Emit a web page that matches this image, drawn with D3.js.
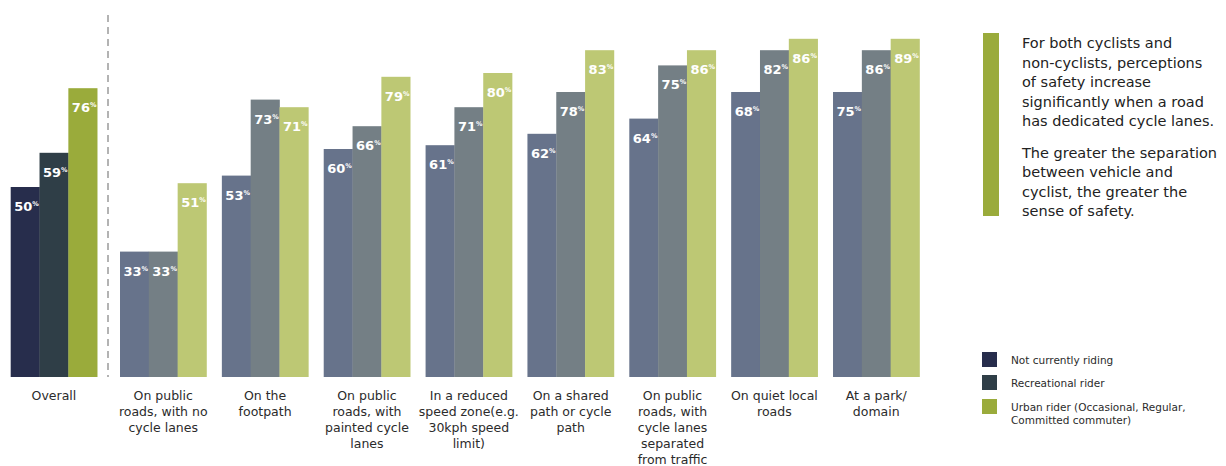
<!DOCTYPE html>
<html>
<head>
<meta charset="utf-8">
<script src="https://cdn.jsdelivr.net/npm/d3@7"></script>
<style>
  body { margin: 0; background: #fff; }
  svg { display: block; font-family: "DejaVu Sans", "Liberation Sans", Arial, sans-serif; }
</style>
</head>
<body>
<script>
// ---- data ----
const categories = [
  "Overall",
  "On public roads, with no cycle lanes",
  "On the footpath",
  "On public roads, with painted cycle lanes",
  "In a reduced speed zone(e.g. 30kph speed limit)",
  "On a shared path or cycle path",
  "On public roads, with cycle lanes separated from traffic",
  "On quiet local roads",
  "At a park/ domain"
];
const categoryLines = [
  ["Overall"],
  ["On public", "roads, with no", "cycle lanes"],
  ["On the", "footpath"],
  ["On public", "roads, with", "painted cycle", "lanes"],
  ["In a reduced", "speed zone(e.g.", "30kph speed", "limit)"],
  ["On a shared", "path or cycle", "path"],
  ["On public", "roads, with", "cycle lanes", "separated", "from traffic"],
  ["On quiet local", "roads"],
  ["At a park/", "domain"]
];
const series = [
  "Not currently riding",
  "Recreational rider",
  "Urban rider (Occasional, Regular, Committed commuter)"
];
// bar heights as drawn in the picture (%)
const notRiding    = [50, 33, 53, 60, 61, 64, 68, 75, 75];
const recreational = [59, 33, 73, 66, 71, 75, 82, 86, 86];
const urban        = [76, 51, 71, 79, 80, 86, 86, 89, 89];
// value labels as printed on the bars (%)
const notRidingLabels    = [50, 33, 53, 60, 61, 62, 64, 68, 75];
const recreationalLabels = [59, 33, 73, 66, 71, 78, 75, 82, 86];
const urbanLabels        = [76, 51, 71, 79, 80, 83, 86, 86, 89];

const noteParagraphs = [
  ["For both cyclists and", "non-cyclists, perceptions", "of safety increase", "significantly when a road", "has dedicated cycle lanes."],
  ["The greater the separation", "between vehicle and", "cyclist, the greater the", "sense of safety."]
];
const legendLines = [
  ["Not currently riding"],
  ["Recreational rider"],
  ["Urban rider (Occasional, Regular,", "Committed commuter)"]
];

// ---- styles ----
const darkColors  = ["#272d4c", "#2f3e47", "#9aab3b"];
const lightColors = ["#67738b", "#747f85", "#bdc874"];

const W = 1226, H = 466;
const baseline = 377;

const svg = d3.select("body").append("svg").attr("width", W).attr("height", H);

const overallScale = d3.scaleBand().domain([categories[0]]).range([10.7, 97.3]);
const groupScale = d3.scaleBand().domain(categories.slice(1)).range([120, 919.5]).paddingInner(0.151).paddingOuter(0);
const gx = c => c === categories[0] ? overallScale(c) : groupScale(c);
const bw = groupScale.bandwidth();
const xs = d3.scaleBand().domain(series).range([0, bw]);
const y = d3.scaleLinear().domain([0, 100]).range([baseline, baseline - 380]);

const heights = [notRiding, recreational, urban];
const labels = [notRidingLabels, recreationalLabels, urbanLabels];

const rows = categories.map((c, i) => ({
  cat: c, i,
  bars: series.map((s, j) => ({ s, j, v: heights[j][i], lab: labels[j][i] }))
}));

const groups = svg.selectAll("g.grp").data(rows).join("g")
  .attr("class", "grp")
  .attr("transform", d => `translate(${gx(d.cat)},0)`);

groups.selectAll("rect").data(d => d.bars.map(b => ({...b, gi: d.i}))).join("rect")
  .attr("x", b => xs(b.s))
  .attr("y", b => y(b.v))
  .attr("width", xs.bandwidth() + 0.3)
  .attr("height", b => y(0) - y(b.v))
  .attr("fill", b => b.gi === 0 ? darkColors[b.j] : lightColors[b.j]);

const vl = groups.selectAll("text.val").data(d => d.bars).join("text")
  .attr("class", "val")
  .attr("x", b => xs(b.s) + 3.5)
  .attr("y", b => y(b.v) + 24)
  .attr("fill", "#fff")
  .attr("font-weight", "bold")
  .attr("font-size", 13);
vl.append("tspan").text(b => b.lab);
vl.append("tspan").attr("font-size", 6.5).attr("dy", -5).text("%");

// category labels
groups.each(function(d) {
  const t = d3.select(this).append("text")
    .attr("text-anchor", "middle")
    .attr("font-size", 12.5)
    .attr("fill", "#2b2b2b");
  categoryLines[d.i].forEach((ln, k) => {
    t.append("tspan").attr("x", bw / 2).attr("y", 399.5 + k * 16.1).text(ln);
  });
});

// dashed separator
svg.append("line")
  .attr("x1", 108).attr("x2", 108)
  .attr("y1", 15).attr("y2", baseline)
  .attr("stroke", "#9a9a9a").attr("stroke-width", 1.5)
  .attr("stroke-dasharray", "7,5");

// note bar + text
svg.append("rect").attr("x", 983).attr("y", 33).attr("width", 16).attr("height", 183).attr("fill", "#9aab3b");
const note = svg.append("text").attr("font-size", 14.5).attr("fill", "#222");
let ny = 48;
noteParagraphs.forEach((p, pi) => {
  p.forEach((ln, k) => {
    note.append("tspan").attr("x", 1022).attr("y", ny).text(ln);
    ny += 19.5;
  });
  ny += 12;
});

// legend
const lg = svg.append("g");
legendLines.forEach((lines, j) => {
  const ty = [352, 375, 399][j];
  lg.append("rect").attr("x", 982).attr("y", ty).attr("width", 15).attr("height", 15).attr("fill", darkColors[j]);
  const t = lg.append("text").attr("font-size", 10.5).attr("fill", "#2b2b2b");
  lines.forEach((ln, k) => {
    t.append("tspan").attr("x", 1011).attr("y", ty + 12 + k * 13).text(ln);
  });
});
</script>
</body>
</html>
